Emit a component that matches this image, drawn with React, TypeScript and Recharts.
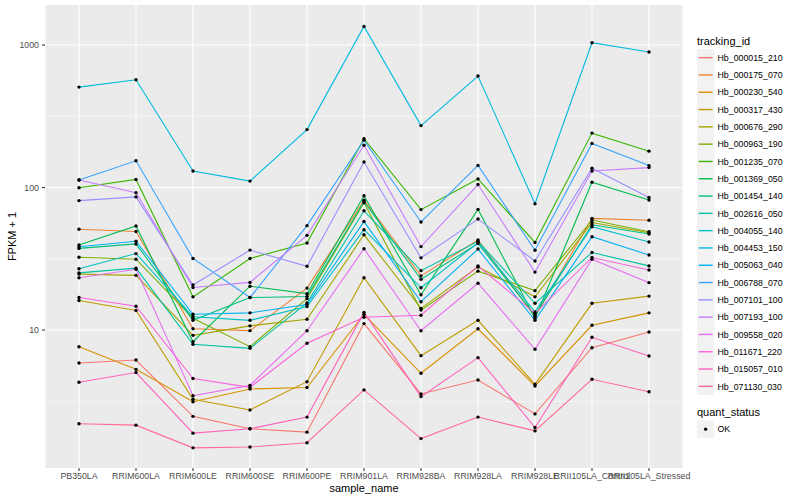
import React from "react";
import { LineChart, Line, XAxis, YAxis, CartesianGrid, ReferenceLine } from "recharts";

const samples = [
  "PB350LA",
  "RRIM600LA",
  "RRIM600LE",
  "RRIM600SE",
  "RRIM600PE",
  "RRIM901LA",
  "RRIM928BA",
  "RRIM928LA",
  "RRIM928LE",
  "RRII105LA_Control",
  "RRII105LA_Stressed",
];

// FPKM + 1 per sample
const hb000015_210 = [5.87, 6.16, 2.48, 2.03, 1.92, 11.1, 3.56, 4.46, 2.58, 7.52, 9.68];
const hb000175_070 = [51, 49.1, 10.2, 9.9, 19.7, 81.5, 24.0, 42.8, 12.4, 60.8, 58.9];
const hb000230_540 = [7.64, 5.3, 3.14, 3.86, 3.95, 12.9, 4.97, 10.2, 4.05, 10.8, 13.2];
const hb000317_430 = [16.1, 13.7, 3.27, 2.75, 4.34, 23.3, 6.61, 11.7, 4.16, 15.4, 17.3];
const hb000676_290 = [24.7, 24.2, 9.18, 10.7, 11.9, 46.6, 14.2, 27.7, 17.1, 56.8, 48.2];
const hb000963_190 = [32.4, 31.4, 12.1, 7.64, 16.6, 78.2, 13.8, 25.9, 18.9, 59.2, 49.0];
const hb001235_070 = [99.6, 114, 17.1, 31.8, 40.8, 220, 70, 115, 41.2, 241, 180];
const hb001369_050 = [39.5, 53.7, 8.28, 20.3, 18.0, 87.5, 17.7, 70.3, 12.1, 109, 81.7];
const hb001454_140 = [37.4, 40.2, 11.7, 16.9, 17.2, 79.5, 22.7, 40.5, 12.7, 54.8, 47.2];
const hb002616_050 = [25.2, 27.2, 7.94, 7.44, 15.5, 68.7, 26.1, 41.9, 15.4, 35.0, 28.2];
const hb004055_140 = [26.9, 34.4, 12.4, 11.7, 14.6, 50.6, 19.8, 41.0, 13.4, 53.1, 41.5];
const hb004453_150 = [507, 571, 130.6, 111, 255, 1352, 272, 606, 76.9, 1038, 893];
const hb005063_040 = [38.4, 42, 12.9, 13.2, 15.1, 57.7, 15.8, 37.0, 11.7, 45.2, 33.6];
const hb006788_070 = [113, 154, 31.8, 16.9, 54, 215, 57.3, 143, 36.3, 204, 142.6];
const hb007101_100 = [81, 86, 20.7, 36.4, 28, 151, 32.1, 60.1, 30.5, 136.5, 85.1];
const hb007193_100 = [113, 92, 19.9, 21.6, 46.2, 198, 38.5, 105, 25.5, 130.5, 138];
const hb009558_020 = [23.3, 26.7, 3.46, 4.09, 9.89, 37.2, 9.89, 21.3, 7.33, 31.4, 21.5];
const hb011671_220 = [16.9, 14.7, 4.57, 3.96, 8.07, 12.3, 12.7, 28.2, 13.1, 32.3, 26.4];
const hb015057_010 = [4.3, 5.03, 1.89, 2.03, 2.45, 13.3, 3.41, 6.4, 2.07, 8.89, 6.58];
const hb071130_030 = [2.2, 2.15, 1.49, 1.51, 1.62, 3.8, 1.73, 2.45, 1.96, 4.51, 3.69];

const trackingIds = [
  "Hb_000015_210", "Hb_000175_070", "Hb_000230_540", "Hb_000317_430", "Hb_000676_290",
  "Hb_000963_190", "Hb_001235_070", "Hb_001369_050", "Hb_001454_140", "Hb_002616_050",
  "Hb_004055_140", "Hb_004453_150", "Hb_005063_040", "Hb_006788_070", "Hb_007101_100",
  "Hb_007193_100", "Hb_009558_020", "Hb_011671_220", "Hb_015057_010", "Hb_071130_030",
];

const seriesValues = [
  hb000015_210, hb000175_070, hb000230_540, hb000317_430, hb000676_290,
  hb000963_190, hb001235_070, hb001369_050, hb001454_140, hb002616_050,
  hb004055_140, hb004453_150, hb005063_040, hb006788_070, hb007101_100,
  hb007193_100, hb009558_020, hb011671_220, hb015057_010, hb071130_030,
];

// ggplot2 default hue palette, 20 levels
const colors = [
  "#F8766D", "#EA8331", "#D89000", "#C09B00", "#A3A500",
  "#7CAE00", "#39B600", "#00BB4E", "#00BF7D", "#00C1A3",
  "#00BFC4", "#00BAE0", "#00B0F6", "#35A2FF", "#9590FF",
  "#C77CFF", "#E76BF3", "#FA62DB", "#FF62BC", "#FF6C91",
];

const majorTicks = [10, 100, 1000];
const minorTicks = [3.1623, 31.623, 316.23];

const data = samples.map((s, i) => {
  const row: Record<string, string | number> = { sample: s };
  trackingIds.forEach((id, k) => {
    row[id] = seriesValues[k][i];
  });
  return row;
});

const FONT = "'Liberation Sans', Arial, Helvetica, sans-serif";

function Legend() {
  const x0 = 697;
  const top = 49;
  const step = 17.3;
  return (
    <svg width={800} height={500} style={{ position: "absolute", left: 0, top: 0, pointerEvents: "none" }}>
      <text x={364} y={492} textAnchor="middle" fontSize={11} fontFamily={FONT} fill="#000">
        sample_name
      </text>
      <text
        x={16}
        y={236.5}
        textAnchor="middle"
        fontSize={11}
        fontFamily={FONT}
        fill="#000"
        transform="rotate(-90 16 236.5)"
      >
        FPKM + 1
      </text>
      <text x={x0} y={44.5} fontSize={11} fontFamily={FONT} fill="#000">
        tracking_id
      </text>
      {trackingIds.map((id, k) => {
        const y = top + k * step;
        return (
          <g key={id}>
            <rect x={x0} y={y} width={step} height={step} fill="#F2F2F2" />
            <line x1={x0 + 1.7} x2={x0 + step - 1.7} y1={y + step / 2} y2={y + step / 2} stroke={colors[k]} strokeWidth={1.4} />
            <text x={x0 + 20.5} y={y + step / 2 + 3.2} fontSize={8.8} fontFamily={FONT} fill="#000">
              {id}
            </text>
          </g>
        );
      })}
      <text x={x0} y={416} fontSize={11} fontFamily={FONT} fill="#000">
        quant_status
      </text>
      <rect x={x0} y={420.5} width={step} height={step} fill="#F2F2F2" />
      <circle cx={x0 + step / 2} cy={420.5 + step / 2} r={1.7} fill="#000" />
      <text x={x0 + 20.5} y={420.5 + step / 2 + 3.2} fontSize={8.8} fontFamily={FONT} fill="#000">
        OK
      </text>
    </svg>
  );
}

export default function App() {
  return (
    <div style={{ position: "absolute", left: 0, top: 0, width: 800, height: 500, background: "#fff" }}>
      <LineChart width={800} height={500} data={data} margin={{ top: 5, right: 117, bottom: 12, left: 0 }}>
        <CartesianGrid fill="#EBEBEB" stroke="#FFFFFF" strokeWidth={1.07} horizontalValues={majorTicks} />
        {minorTicks.map((v) => (
          <ReferenceLine key={v} y={v} stroke="#FFFFFF" strokeWidth={0.53} />
        ))}
        <XAxis
          dataKey="sample"
          interval={0}
          padding={{ left: 34, right: 34 }}
          height={20}
          axisLine={false}
          tickLine={{ stroke: "#333333", strokeWidth: 1.07 }}
          tickSize={3}
          tickMargin={2}
          tick={{ fontSize: 8.8, fill: "#4D4D4D", fontFamily: FONT }}
        />
        <YAxis
          scale="log"
          domain={[1.076, 1910]}
          allowDataOverflow
          ticks={majorTicks}
          width={45}
          axisLine={false}
          tickLine={{ stroke: "#333333", strokeWidth: 1.07 }}
          tickSize={3}
          tickMargin={3}
          tick={{ fontSize: 8.8, fill: "#4D4D4D", fontFamily: FONT }}
        />
        {trackingIds.map((id, k) => (
          <Line
            key={id}
            dataKey={id}
            type="linear"
            stroke={colors[k]}
            strokeWidth={1.1}
            dot={false}
            activeDot={false}
            isAnimationActive={false}
          />
        ))}
        {trackingIds.map((id) => (
          <Line
            key={id + "_pt"}
            dataKey={id}
            type="linear"
            stroke="none"
            strokeWidth={0}
            dot={{ r: 1.7, fill: "#000000", stroke: "none" }}
            activeDot={false}
            isAnimationActive={false}
          />
        ))}
      </LineChart>
      <Legend />
    </div>
  );
}
